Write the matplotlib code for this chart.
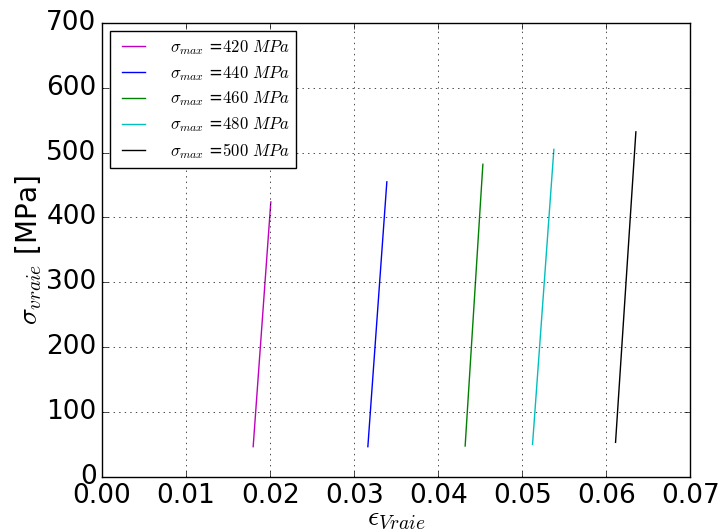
import matplotlib
matplotlib.use("Agg")
import matplotlib.pyplot as plt

plt.style.use('classic')

sigma_max = [420, 440, 460, 480, 500]
colors = ['m', 'b', 'g', 'c', 'k']
eps_start = [0.01798, 0.03163, 0.04321, 0.05123, 0.06111]
eps_end = [0.02008, 0.03389, 0.04532, 0.05377, 0.06353]
sig_start = [46.7, 46.7, 47.8, 50.3, 53.4]
sig_end = [424, 455, 482, 505, 532]
xtick_labels = ['0.00', '0.01', '0.02', '0.03', '0.04', '0.05', '0.06', '0.07']
ytick_values = [0, 100, 200, 300, 400, 500, 600, 700]

fig = plt.figure(figsize=(7.19, 5.32), dpi=100)
fig.patch.set_facecolor('white')
ax = fig.add_axes([0.142, 0.1034, 0.818, 0.8536])

for s, c, x0, x1, y0, y1 in zip(sigma_max, colors, eps_start, eps_end, sig_start, sig_end):
    ax.plot([x0, x1], [y0, y1], color=c, lw=1,
            label=r'$\sigma_{max}\ $=$%d\ MPa$' % s)

ax.set_xlim(0, 0.07)
ax.set_ylim(0, 700)
ax.set_xticks([float(t) for t in xtick_labels])
ax.set_xticklabels(xtick_labels)
ax.set_yticks(ytick_values)
ax.tick_params(labelsize=19)
ax.grid(True)
ax.set_xlabel(r'$\epsilon_{Vraie}$', fontsize=20, labelpad=-3)
ax.set_ylabel(r'$\sigma_{vraie}$ [MPa]', fontsize=20, labelpad=2)
ax.legend(loc='upper left', fontsize=12, handletextpad=1.15, labelspacing=0.42)

fig.savefig('out.png', dpi=100, facecolor='white')
